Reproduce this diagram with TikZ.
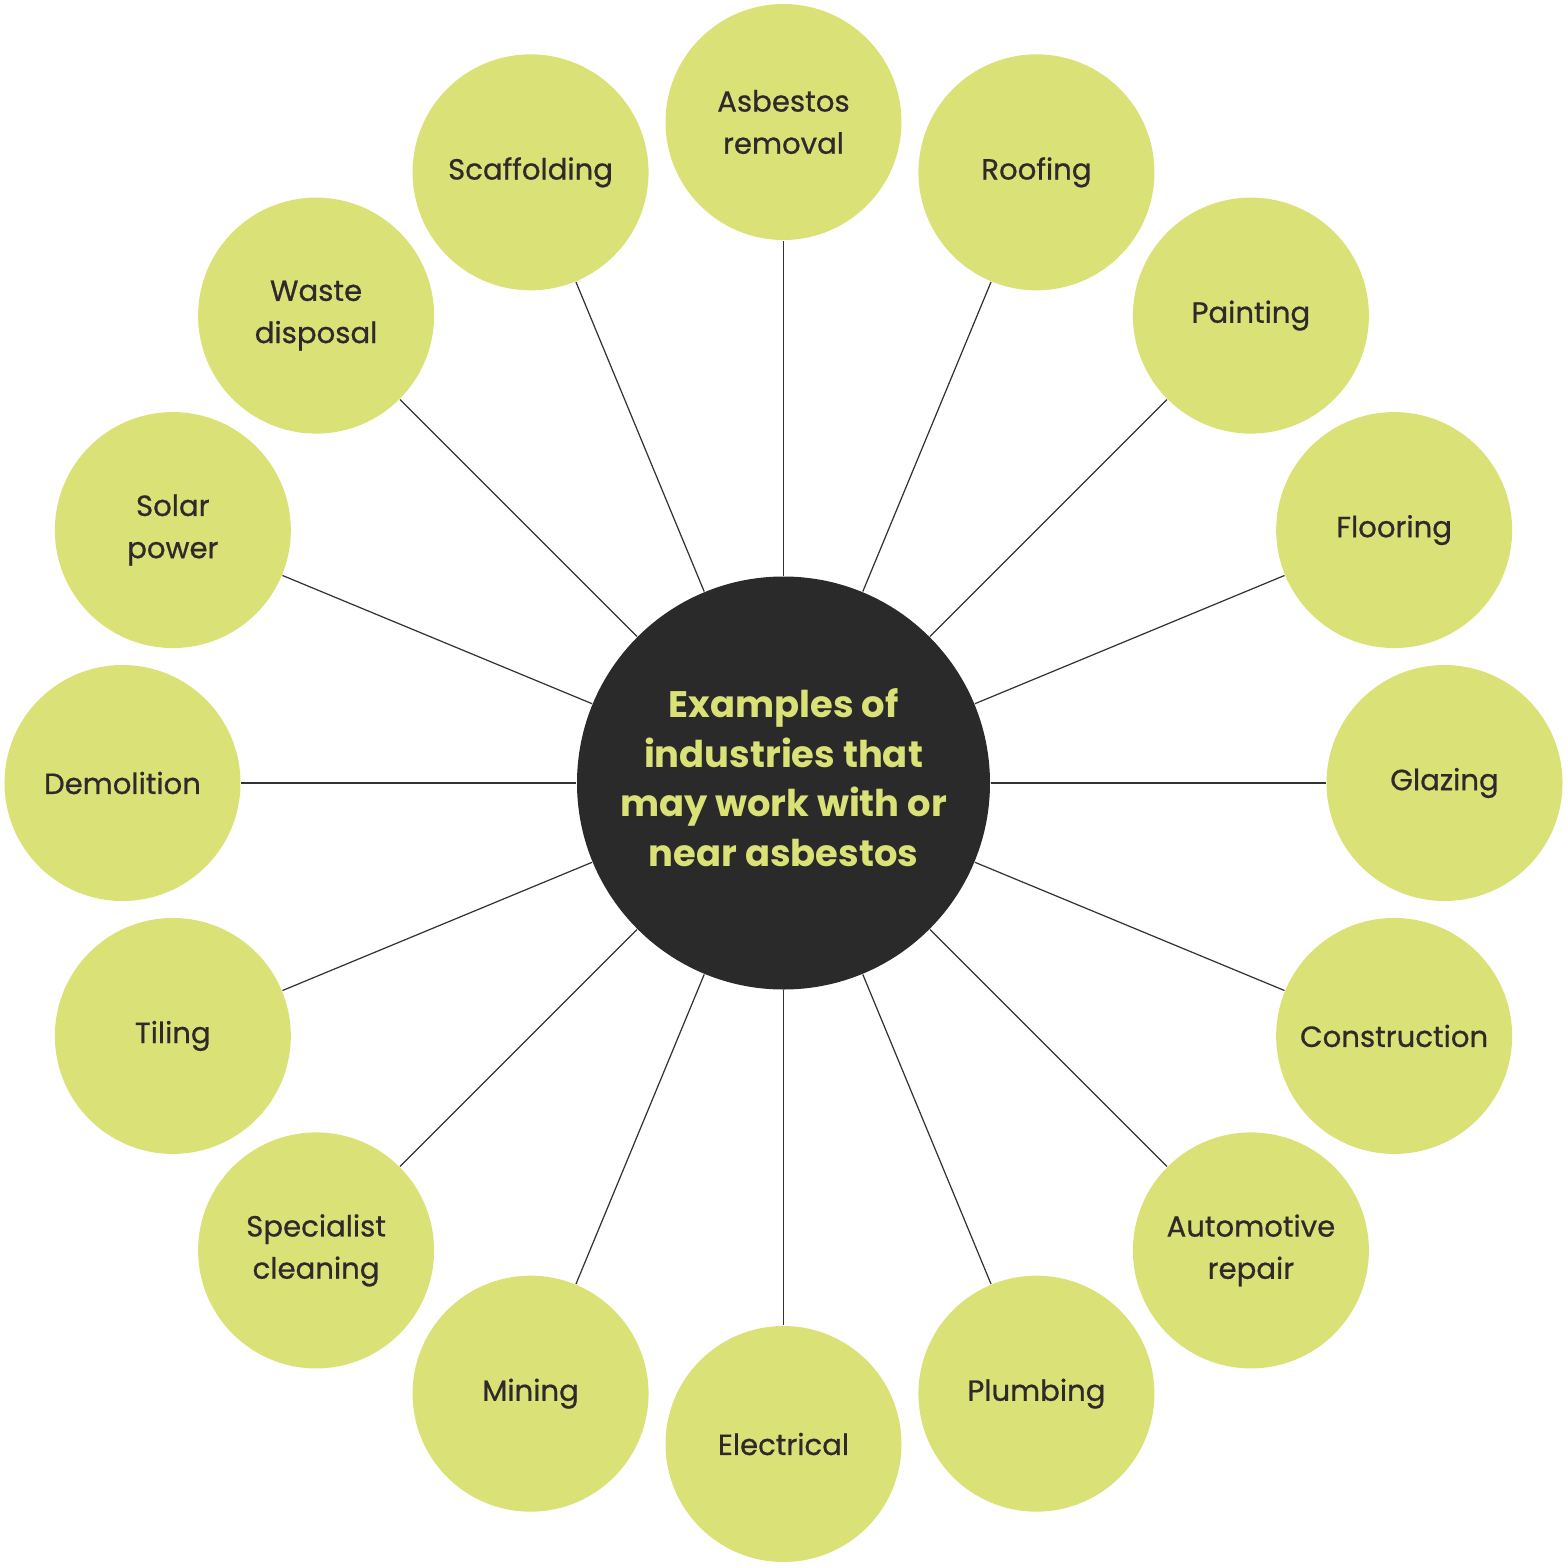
\documentclass[tikz,border=0pt]{standalone}
\usepackage{fontspec}
\setmainfont{Poppins}
\newfontfamily\leaffont{Poppins}[FakeBold=0.7]
\definecolor{leafgreen}{HTML}{DAE277}
\definecolor{hubdark}{HTML}{2A2A2A}
\definecolor{labeldark}{HTML}{2E2A2B}
\definecolor{linkgray}{HTML}{333333}
\tikzset{
  leaf/.style={circle, fill=leafgreen, inner sep=0pt, minimum size=2.36cm, align=center,
    text=labeldark, font=\leaffont\fontsize{8.3pt}{12pt}\selectfont},
  hub/.style={circle, fill=hubdark, inner sep=0pt, minimum size=4.13cm},
  hubtext/.style={align=center, inner sep=0pt,
    text=leafgreen, font=\fontsize{10.5pt}{14.1pt}\selectfont\bfseries},
  link/.style={draw=linkgray, line width=0.35pt}
}
\begin{document}
\begin{tikzpicture}
\useasboundingbox (-7.835,-7.84) rectangle (7.845,7.83);
\node[hub] (hub) at (0,0) {};
\node[hubtext] (hubt) at (0,0.055) {Examples of\\industries that\\may work with or\\near asbestos};
\node[leaf] (n0) at (0:6.61cm) {Glazing};
\node[leaf] (n1) at (22.5:6.61cm) {Flooring};
\node[leaf] (n2) at (45:6.61cm) {Painting};
\node[leaf] (n3) at (67.5:6.61cm) {Roofing};
\node[leaf] (n4) at (90:6.61cm) {Asbestos\\removal};
\node[leaf] (n5) at (112.5:6.61cm) {Scaffolding};
\node[leaf] (n6) at (135:6.61cm) {Waste\\disposal};
\node[leaf] (n7) at (157.5:6.61cm) {Solar\\power};
\node[leaf] (n8) at (180:6.61cm) {Demolition};
\node[leaf] (n9) at (202.5:6.61cm) {Tiling};
\node[leaf] (n10) at (225:6.61cm) {Specialist\\cleaning};
\node[leaf] (n11) at (247.5:6.61cm) {Mining};
\node[leaf] (n12) at (270:6.61cm) {Electrical};
\node[leaf] (n13) at (292.5:6.61cm) {Plumbing};
\node[leaf] (n14) at (315:6.61cm) {Automotive\\repair};
\node[leaf] (n15) at (337.5:6.61cm) {Construction};
\foreach \i in {0,...,15} {
  \draw[link] (hub) -- (n\i);
}
\end{tikzpicture}
\end{document}
